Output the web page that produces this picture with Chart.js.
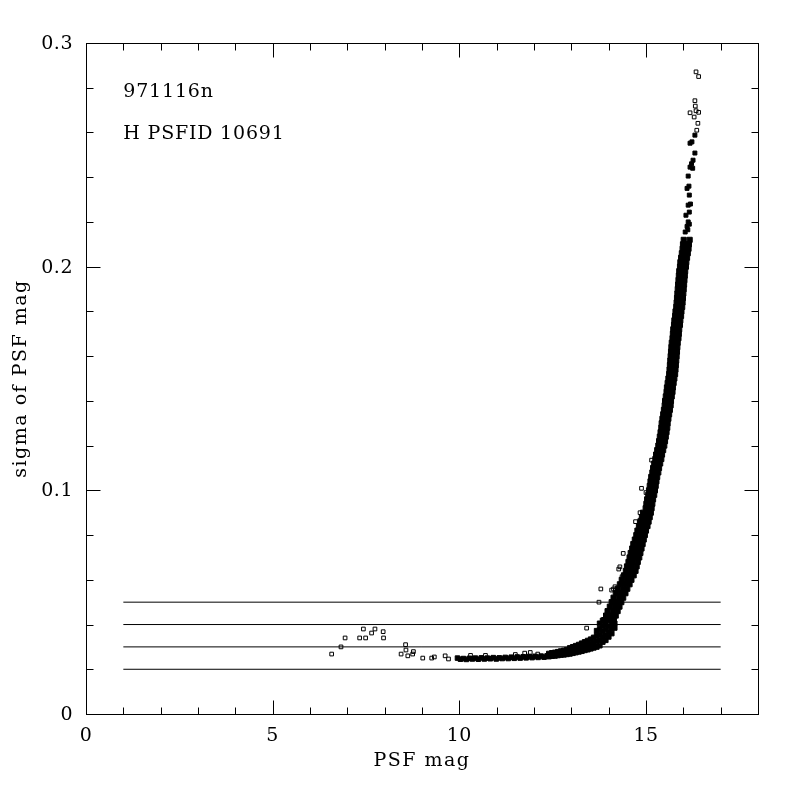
<!DOCTYPE html>
<html><head><meta charset="utf-8">
<script src="https://cdn.jsdelivr.net/npm/chart.js@4"></script>
<style>html,body{margin:0;padding:0;background:#fff}#wrap{width:800px;height:800px}</style>
</head><body><div id="wrap"><canvas id="c" width="800" height="800"></canvas></div>
<script>
// ---- axis ranges / ticks ----
const xMin = 0, xMax = 18, yMin = 0, yMax = 0.3;
const xMajorTicks = [0, 5, 10, 15];
const xTickLabels = ['0', '5', '10', '15'];
const xMinorTicks = [1, 2, 3, 4, 6, 7, 8, 9, 11, 12, 13, 14, 16, 17];
const yMajorTicks = [0, 0.1, 0.2, 0.3];
const yTickLabels = ['0', '0.1', '0.2', '0.3'];
const yMinorTicks = [0.02, 0.04, 0.06, 0.08, 0.12, 0.14, 0.16, 0.18, 0.22, 0.24, 0.26, 0.28];
const xTitle = 'PSF mag';
const yTitle = 'sigma of PSF mag';
const noteTexts = ['971116n', 'H PSFID 10691'];
const noteMag = 1.0;
const noteSigma = [0.276, 0.257];

// ---- reference levels ----
const refLevels = [0.02, 0.03, 0.04, 0.05];
const refFrom = 1, refTo = 17;

// ---- scatter data: [PSF mag, sigma] ----
const flatBand = [
 [9.95,0.0250],[10.03,0.0245],[10.11,0.0248],[10.19,0.0244],[10.27,0.0249],[10.35,0.0246],[10.43,0.0250],
 [10.51,0.0245],[10.59,0.0251],[10.67,0.0246],[10.75,0.0250],[10.83,0.0247],[10.91,0.0252],[10.99,0.0246],
 [11.07,0.0251],[11.15,0.0248],[11.23,0.0253],[11.31,0.0248],[11.39,0.0254],[11.47,0.0249],[11.55,0.0255],
 [11.63,0.0250],[11.71,0.0256],[11.79,0.0251],[11.87,0.0257],[11.95,0.0252],[12.03,0.0258],[12.11,0.0253],
 [12.19,0.0259],[12.27,0.0254],[12.35,0.0260]
];
const kneeBand = [
 [12.40,0.0257],[12.40,0.0270],[12.48,0.0259],[12.48,0.0273],[12.56,0.0260],[12.56,0.0275],
 [12.64,0.0262],[12.64,0.0278],[12.72,0.0264],[12.72,0.0281],[12.80,0.0265],[12.80,0.0284],
 [12.88,0.0267],[12.88,0.0287],[12.96,0.0269],[12.96,0.0282],[12.96,0.0295],
 [13.04,0.0272],[13.04,0.0286],[13.04,0.0300],[13.12,0.0275],[13.12,0.0290],[13.12,0.0305],
 [13.20,0.0278],[13.20,0.0294],[13.20,0.0310],[13.28,0.0281],[13.28,0.0298],[13.28,0.0316],
 [13.36,0.0285],[13.36,0.0303],[13.36,0.0322],[13.44,0.0288],[13.44,0.0308],[13.44,0.0328],
 [13.52,0.0292],[13.52,0.0312],[13.52,0.0334],[13.60,0.0296],[13.60,0.0318],[13.60,0.0342],
 [13.68,0.0300],[13.68,0.0325],[13.68,0.0350],[13.68,0.0372],
 [13.76,0.0306],[13.76,0.0330],[13.76,0.0355],[13.76,0.0380],[13.76,0.0405],
 [13.84,0.0322],[13.84,0.0345],[13.84,0.0370],[13.84,0.0395],[13.84,0.0418],
 [13.92,0.0330],[13.92,0.0352],[13.92,0.0378],[13.92,0.0402],
 [14.00,0.0345],[14.00,0.0368],[14.00,0.0392],[14.08,0.0360],[14.08,0.0382],[14.08,0.0402],
 [14.16,0.0385],[14.16,0.0405]
];
const steepBand = [
 [13.88,0.042],[14.01,0.042],[14.14,0.042],[13.93,0.044],[14.06,0.044],[14.19,0.044],
 [13.97,0.046],[14.11,0.046],[14.24,0.046],[14.03,0.048],[14.16,0.048],[14.29,0.048],
 [14.08,0.050],[14.21,0.050],[14.34,0.050],[14.13,0.052],[14.27,0.052],[14.39,0.052],
 [14.19,0.054],[14.32,0.054],[14.45,0.054],[14.24,0.056],[14.38,0.056],[14.50,0.056],
 [14.30,0.058],[14.43,0.058],[14.56,0.058],[14.35,0.060],[14.49,0.060],[14.61,0.060],
 [14.41,0.062],[14.55,0.062],[14.67,0.062],[14.46,0.064],[14.59,0.064],[14.72,0.064],
 [14.49,0.066],[14.62,0.066],[14.75,0.066],[14.53,0.068],[14.66,0.068],[14.78,0.068],
 [14.56,0.070],[14.69,0.070],[14.82,0.070],[14.59,0.072],[14.72,0.072],[14.85,0.072],
 [14.63,0.074],[14.76,0.074],[14.88,0.074],[14.66,0.076],[14.79,0.076],[14.91,0.076],
 [14.70,0.078],[14.82,0.078],[14.94,0.078],[14.74,0.080],[14.86,0.080],[14.97,0.080],
 [14.77,0.082],[14.89,0.082],[15.00,0.082],[14.81,0.084],[14.93,0.084],[15.04,0.084],
 [14.85,0.086],[14.96,0.086],[15.07,0.086],[14.89,0.088],[15.00,0.088],[15.10,0.088],
 [14.92,0.090],[15.03,0.090],[15.13,0.090],
 [14.99,0.092],[15.15,0.092],[15.01,0.094],[15.17,0.094],[15.03,0.096],[15.19,0.096],
 [15.06,0.098],[15.22,0.098],[15.08,0.100],[15.24,0.100],[15.10,0.102],[15.26,0.102],
 [15.12,0.104],[15.28,0.104],[15.14,0.106],[15.30,0.106],[15.17,0.108],[15.33,0.108],
 [15.19,0.110],[15.35,0.110],[15.22,0.112],[15.38,0.112],[15.25,0.114],[15.41,0.114],
 [15.27,0.116],[15.43,0.116],[15.30,0.118],[15.46,0.118],[15.33,0.120],[15.49,0.120],
 [15.35,0.122],[15.51,0.122],[15.37,0.124],[15.53,0.124],[15.39,0.126],[15.55,0.126],
 [15.41,0.128],[15.57,0.128],[15.42,0.130],[15.58,0.130],[15.44,0.132],[15.60,0.132],
 [15.46,0.134],[15.62,0.134],[15.48,0.136],[15.64,0.136],[15.50,0.138],[15.66,0.138],
 [15.51,0.140],[15.67,0.140],[15.53,0.142],[15.69,0.142],[15.55,0.144],[15.71,0.144],
 [15.56,0.146],[15.72,0.146],[15.58,0.148],[15.74,0.148],[15.60,0.150],[15.76,0.150],
 [15.62,0.152],[15.78,0.152],[15.63,0.154],[15.79,0.154],[15.64,0.156],[15.80,0.156],
 [15.65,0.158],[15.81,0.158],[15.66,0.160],[15.82,0.160],[15.67,0.162],[15.83,0.162],
 [15.68,0.164],[15.84,0.164],[15.69,0.166],[15.85,0.166],[15.71,0.168],[15.87,0.168],
 [15.72,0.170],[15.88,0.170],[15.73,0.172],[15.89,0.172],[15.75,0.174],[15.91,0.174],
 [15.76,0.176],[15.92,0.176],[15.78,0.178],[15.94,0.178],[15.79,0.180],[15.95,0.180],
 [15.81,0.182],[15.97,0.182],[15.82,0.184],[15.98,0.184],[15.83,0.186],[15.99,0.186],
 [15.84,0.188],[16.00,0.188],[15.85,0.190],[16.01,0.190],[15.86,0.192],[16.02,0.192],
 [15.87,0.194],[16.03,0.194],[15.88,0.196],[16.04,0.196],[15.89,0.198],[16.05,0.198],
 [15.91,0.200],[16.07,0.200],[15.92,0.202],[16.08,0.202],[15.94,0.204],[16.10,0.204],
 [15.96,0.206],[16.12,0.206],[15.98,0.208],[16.14,0.208],[15.99,0.210],[16.15,0.210],
 [16.01,0.212],[16.17,0.212]
];
const steepCore = [
 [15.07,0.092],[15.09,0.094],[15.11,0.096],[15.14,0.098],[15.16,0.100],[15.18,0.102],[15.20,0.104],
 [15.22,0.106],[15.25,0.108],[15.27,0.110],[15.30,0.112],[15.33,0.114],[15.35,0.116],[15.38,0.118],
 [15.41,0.120],[15.43,0.122],[15.45,0.124],[15.47,0.126],[15.49,0.128],[15.50,0.130],[15.52,0.132],
 [15.54,0.134],[15.56,0.136],[15.58,0.138],[15.59,0.140],[15.61,0.142],[15.63,0.144],[15.64,0.146],
 [15.66,0.148],[15.68,0.150],[15.70,0.152],[15.71,0.154],[15.72,0.156],[15.73,0.158],[15.74,0.160],
 [15.75,0.162],[15.76,0.164],[15.77,0.166],[15.79,0.168],[15.80,0.170],[15.81,0.172],[15.83,0.174],
 [15.84,0.176],[15.86,0.178],[15.87,0.180],[15.89,0.182],[15.90,0.184],[15.91,0.186],[15.92,0.188],
 [15.93,0.190],[15.94,0.192],[15.95,0.194],[15.96,0.196],[15.97,0.198],[15.99,0.200],[16.00,0.202],
 [16.02,0.204],[16.04,0.206],[16.06,0.208],[16.07,0.210]
];
const upperBand = [
 [16.05,0.2155],[16.12,0.2165],[16.10,0.2180],[16.16,0.2190],[16.13,0.2200],[16.07,0.2230],
 [16.16,0.2244],[16.13,0.2275],[16.19,0.2280],[16.16,0.2320],[16.10,0.2350],[16.15,0.2360],
 [16.13,0.2405],[16.18,0.2445],[16.25,0.2440],[16.26,0.2476],[16.22,0.2460],[16.31,0.2508],
 [16.18,0.2552],[16.23,0.2558],[16.31,0.2588]
];
const sparsePoints = [
 [6.58,0.0268],[6.83,0.0300],[6.94,0.0340],[7.33,0.0340],[7.49,0.0340],[7.43,0.0380],[7.65,0.0362],
 [7.74,0.0380],[7.96,0.0368],[7.97,0.0340],[8.56,0.0310],[8.57,0.0286],[8.44,0.0268],[8.62,0.0260],
 [8.77,0.0279],[8.75,0.0268],[9.02,0.0250],[9.26,0.0250],[9.33,0.0255],[9.62,0.0260],[9.71,0.0246],
 [10.30,0.0262],[10.70,0.0262],[11.50,0.0266],[11.75,0.0272],[11.90,0.0275],[12.10,0.0268],
 [13.41,0.0384],[13.74,0.0500],[13.79,0.0559],[14.08,0.0554],[14.13,0.0559],[14.17,0.0569],
 [14.36,0.0614],[14.27,0.0648],[14.30,0.0658],[14.39,0.0718],[14.72,0.0860],[14.84,0.0867],
 [14.84,0.0900],[14.88,0.1009],[15.00,0.0990],[15.20,0.1090],[15.15,0.1135],
 [16.36,0.2610],[16.39,0.2641],[16.29,0.2669],[16.34,0.2697],[16.18,0.2688],[16.41,0.2690],
 [16.32,0.2718],[16.31,0.2742],[16.34,0.2871],[16.41,0.2850]
];

const toXY = arr => arr.map(p => ({x: p[0], y: p[1]}));
const FONT = '"DejaVu Serif", "Liberation Serif", serif';

const frameTicks = {
  id: 'frameTicks',
  afterDraw(chart) {
    const ctx = chart.ctx, xs = chart.scales.x, ys = chart.scales.y;
    const a = chart.chartArea;
    const L = Math.round(a.left) + 0.5, R = Math.round(a.right) + 0.5;
    const T = Math.round(a.top) + 0.5, B = Math.round(a.bottom) + 0.5;
    ctx.save();
    ctx.strokeStyle = '#000'; ctx.lineWidth = 1;
    ctx.strokeRect(L, T, R - L, B - T);
    ctx.beginPath();
    const xt = (v, len) => { const p = Math.round(xs.getPixelForValue(v)) + 0.5;
      ctx.moveTo(p, B); ctx.lineTo(p, B - len); ctx.moveTo(p, T); ctx.lineTo(p, T + len); };
    const yt = (v, len) => { const p = Math.round(ys.getPixelForValue(v)) + 0.5;
      ctx.moveTo(L, p); ctx.lineTo(L + len, p); ctx.moveTo(R, p); ctx.lineTo(R - len, p); };
    xMajorTicks.forEach(v => xt(v, 14)); xMinorTicks.forEach(v => xt(v, 7));
    yMajorTicks.forEach(v => yt(v, 14)); yMinorTicks.forEach(v => yt(v, 7));
    ctx.stroke();
    ctx.fillStyle = '#000';
    ctx.font = '19px ' + FONT;
    ctx.letterSpacing = '0.5px';
    ctx.textAlign = 'center'; ctx.textBaseline = 'alphabetic';
    xMajorTicks.forEach((v, i) => ctx.fillText(xTickLabels[i], xs.getPixelForValue(v), 741));
    ctx.textAlign = 'right'; ctx.textBaseline = 'middle';
    yMajorTicks.forEach((v, i) => ctx.fillText(yTickLabels[i], 73, ys.getPixelForValue(v) + 1));
    ctx.letterSpacing = '1.5px';
    ctx.textAlign = 'center'; ctx.textBaseline = 'alphabetic';
    ctx.fillText(xTitle, (a.left + a.right) / 2, 766);
    ctx.save();
    ctx.translate(26, (a.top + a.bottom) / 2);
    ctx.rotate(-Math.PI / 2);
    ctx.fillText(yTitle, 0, 0);
    ctx.restore();
    ctx.letterSpacing = '0.8px';
    ctx.textAlign = 'left';
    noteTexts.forEach((t, i) => ctx.fillText(t, xs.getPixelForValue(noteMag), ys.getPixelForValue(noteSigma[i])));
    ctx.restore();
  }
};

const refDatasets = refLevels.map(lv => ({
  type: 'line', data: [{x: refFrom, y: lv}, {x: refTo, y: lv}],
  borderColor: '#000', borderWidth: 1, pointRadius: 0, fill: false, order: 5
}));

const bandStyle = {pointStyle: 'rect', pointRadius: 3.6, borderWidth: 1,
  borderColor: '#000', backgroundColor: '#000'};
const sparseStyle = {pointStyle: 'rect', pointRadius: 2.6, borderWidth: 1,
  borderColor: '#000', backgroundColor: 'rgba(0,0,0,0)'};

new Chart(document.getElementById('c'), {
  type: 'scatter',
  data: {
    datasets: [
      ...refDatasets,
      Object.assign({data: toXY(flatBand)}, bandStyle, {pointRadius: 3.2}),
      Object.assign({data: toXY(kneeBand)}, bandStyle, {pointRadius: 3.4}),
      Object.assign({data: toXY(steepBand)}, bandStyle),
      Object.assign({data: toXY(steepCore)}, bandStyle),
      Object.assign({data: toXY(upperBand)}, bandStyle, {pointRadius: 2.8}),
      Object.assign({data: toXY(sparsePoints)}, sparseStyle)
    ]
  },
  options: {
    responsive: false, animation: false, devicePixelRatio: 1,
    layout: {padding: {left: 86, top: 43, right: 42, bottom: 86}},
    scales: {
      x: {type: 'linear', min: xMin, max: xMax, display: false},
      y: {type: 'linear', min: yMin, max: yMax, display: false}
    },
    plugins: {legend: {display: false}, tooltip: {enabled: false}},
    events: []
  },
  plugins: [frameTicks]
});
</script>
</body></html>
